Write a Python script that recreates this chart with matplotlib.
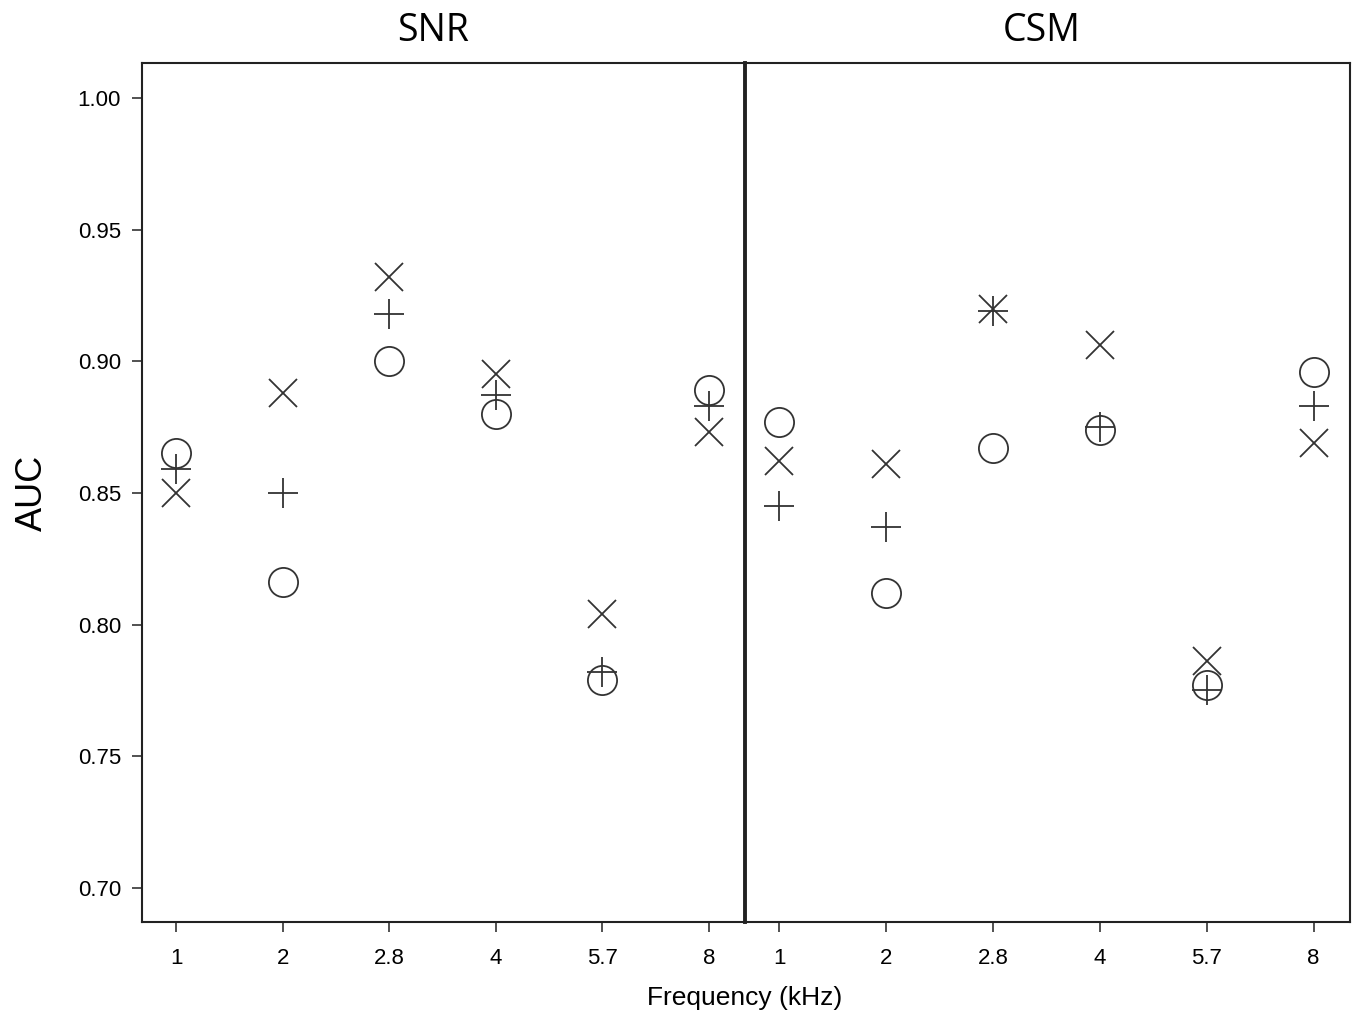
import matplotlib
matplotlib.use("Agg")
import matplotlib.pyplot as plt

categories = ["1", "2", "2.8", "4", "5.7", "8"]

snr_circle = [0.865, 0.816, 0.900, 0.880, 0.779, 0.889]
snr_plus   = [0.859, 0.850, 0.918, 0.887, 0.782, 0.883]
snr_x      = [0.850, 0.888, 0.932, 0.895, 0.804, 0.873]

csm_circle = [0.877, 0.812, 0.867, 0.874, 0.777, 0.896]
csm_plus   = [0.845, 0.837, 0.919, 0.875, 0.775, 0.883]
csm_x      = [0.862, 0.861, 0.920, 0.906, 0.786, 0.869]

yticks = [0.70, 0.75, 0.80, 0.85, 0.90, 0.95, 1.00]

plt.rcParams['font.family'] = ['Liberation Sans', 'DejaVu Sans']

fig = plt.figure(figsize=(13.57, 10.15), dpi=100)
ax1 = fig.add_axes([0.1046, 0.0916, 0.4444, 0.8464])
ax2 = fig.add_axes([0.549, 0.0916, 0.4458, 0.8464])

col = '#333333'
pos = list(range(len(categories)))

def draw(ax, circ, plus, xs, title, tx):
    ax.plot(pos, circ, linestyle='none', marker='o', markersize=21,
            markerfacecolor='none', markeredgecolor=col, markeredgewidth=1.3)
    ax.plot(pos, plus, linestyle='none', marker='+', markersize=22,
            markeredgecolor=col, markeredgewidth=1.3)
    ax.plot(pos, xs, linestyle='none', marker='x', markersize=20,
            markeredgecolor=col, markeredgewidth=1.3)
    ax.set_xlim(-0.32, 5.34)
    ax.set_ylim(0.687, 1.0133)
    ax.set_xticks(pos)
    ax.set_xticklabels(categories, fontsize=16)
    fig.text(tx, 1 - 31 / 1015, title, ha='center', va='center', fontsize=27,
             family=['Open Sans', 'DejaVu Sans'])
    ax.tick_params(axis='x', direction='out', length=7, width=1.2, color=col, pad=12)
    for s in ax.spines.values():
        s.set_color('#222222')
        s.set_linewidth(1.5)

draw(ax1, snr_circle, snr_plus, snr_x, 'SNR', 433 / 1357)
draw(ax2, csm_circle, csm_plus, csm_x, 'CSM', 1042 / 1357)

ax1.set_yticks(yticks)
ax1.set_yticklabels([f"{v:.2f}" for v in yticks], fontsize=16)
ax1.tick_params(axis='y', direction='out', length=7, width=1.2, color=col, pad=8)
ax1.set_ylabel('AUC', fontsize=26, labelpad=20)
ax1.spines['right'].set_visible(False)
ax2.set_yticks([])
ax2.spines['left'].set_linewidth(2.8)

fig.text(745 / 1357, 1 - 998 / 1015, 'Frequency (kHz)', ha='center', va='center', fontsize=19)

fig.savefig('out.png', dpi=100)
